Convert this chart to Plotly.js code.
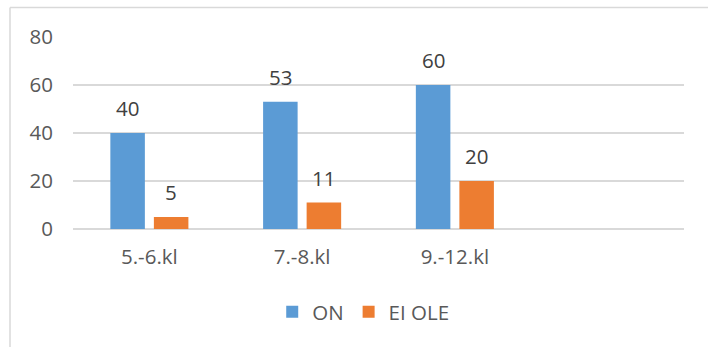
<!DOCTYPE html>
<html>
<head>
<meta charset="utf-8">
<script src="https://cdn.plot.ly/plotly-3.0.1.min.js"></script>
<style>html,body{margin:0;padding:0;background:#fff;overflow:hidden}</style>
</head>
<body>
<div id="chart" style="width:708px;height:347px"></div>
<script>
const categories = ['5.-6.kl', '7.-8.kl', '9.-12.kl'];
const seriesNames = ['ON', 'EI OLE'];
const onValues = [40, 53, 60];
const eiOleValues = [5, 11, 20];
const yTicks = [0, 20, 40, 60, 80];

const colors = ['#5B9BD5', '#ED7D31'];
const font = "'Open Sans', 'Liberation Sans', sans-serif";
const series = [onValues, eiOleValues];

const traces = series.map((vals, i) => ({
  type: 'bar', name: seriesNames[i], x: categories, y: vals,
  marker: {color: colors[i]}, hoverinfo: 'skip'
}));

const annotations = [];
series.forEach((vals, i) => {
  vals.forEach((v, j) => {
    annotations.push({
      x: categories[j], y: v, xref: 'x', yref: 'y', text: String(v),
      showarrow: false, xshift: (i - 0.5) * 43.5, yshift: 25,
      yanchor: 'middle', font: {family: font, size: 20.5, color: '#404040'}
    });
  });
});

const layout = {
  width: 708, height: 347,
  margin: {l: 73, r: 24, t: 37, b: 118},
  paper_bgcolor: '#fff', plot_bgcolor: '#fff',
  barmode: 'group', bargap: 0.43, bargroupgap: 0.207,
  font: {family: font, size: 20.5, color: '#595959'},
  xaxis: {type: 'category', range: [-0.5, 3.5], showgrid: false, zeroline: false,
          showline: false, ticks: '', ticklabelstandoff: 13, fixedrange: true},
  yaxis: {range: [0, 80], tickvals: yTicks, showgrid: true, gridcolor: '#D9D9D9', gridwidth: 1.5,
          zeroline: true, zerolinecolor: '#D9D9D9', zerolinewidth: 1.5, showline: false,
          ticks: '', ticklabelstandoff: 19, fixedrange: true},
  showlegend: true,
  legend: {orientation: 'h', x: 0.475, xanchor: 'center', y: -0.432, yanchor: 'middle',
           font: {family: font, size: 20.5, color: '#595959'}, itemclick: false, itemwidth: 30},
  annotations: annotations,
  shapes: [
    {type: 'line', xref: 'paper', yref: 'paper', x0: -0.1031, x1: 1.3, y0: 1.1536, y1: 1.1536,
     line: {color: '#D9D9D9', width: 1.5}},
    {type: 'line', xref: 'paper', yref: 'paper', x0: -0.1031, x1: -0.1031, y0: 1.1536, y1: -1.0,
     line: {color: '#D9D9D9', width: 1.5}}
  ]
};

Plotly.newPlot('chart', traces, layout, {displayModeBar: false, staticPlot: true});
</script>
</body>
</html>
